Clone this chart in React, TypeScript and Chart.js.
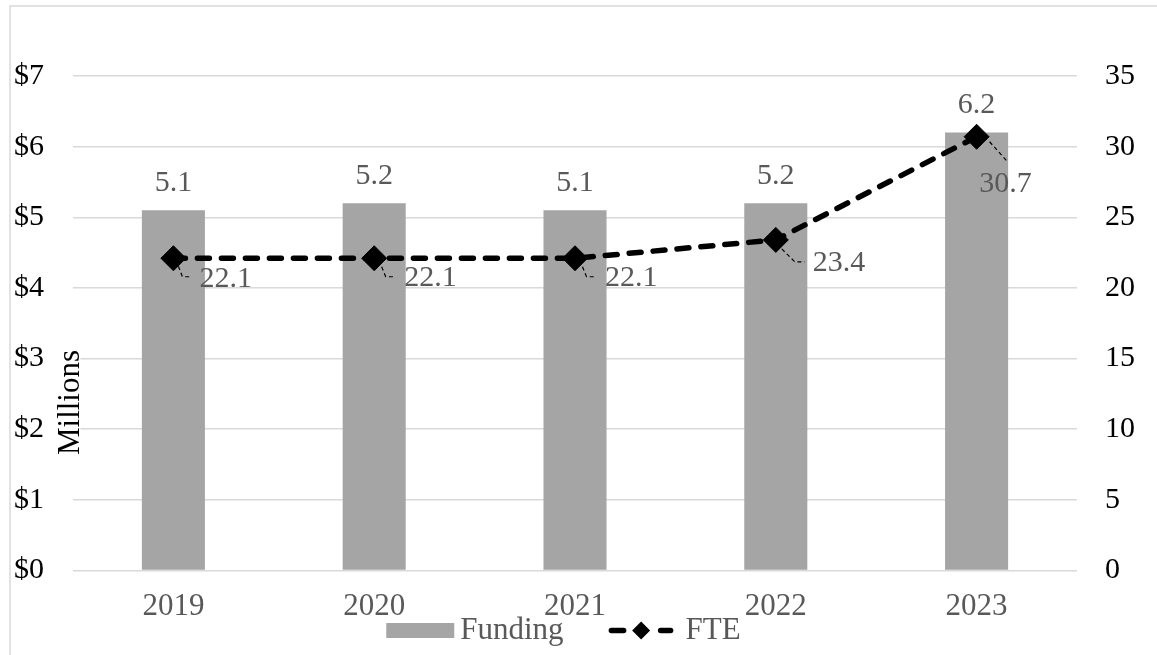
import { useEffect, useRef } from 'react';
import { Chart, registerables } from 'chart.js';

Chart.register(...registerables);

// ---- data ----
const categories = ['2019', '2020', '2021', '2022', '2023'];
const funding = [5.1, 5.2, 5.1, 5.2, 6.2]; // $ millions
const fte = [22.1, 22.1, 22.1, 23.4, 30.7];
const fundingTicks = { min: 0, max: 7, step: 1 };
const fteTicks = { min: 0, max: 35, step: 5 };
const seriesNames = ['Funding', 'FTE'];
const axisTitle = 'Millions';

// ---- styling ----
const SERIF = '"Liberation Serif", "Times New Roman", serif';
const BAR_GREY = '#a5a5a5';
const TEXT_GREY = '#595959';
const GRID_GREY = '#d9d9d9';
const LINE_WIDTH = 5.5;
const LINE_DASH = [12, 12];

// Hand-placed FTE labels: leader path and text anchor, relative to each marker
type Placement = { leader: number[][]; tx: number; ty: number; align: CanvasTextAlign };
const fteLabelPlacement: Placement[] = [
  { leader: [[5, 8], [9, 18.5], [17, 18.5]], tx: 26, ty: 20.5, align: 'left' },
  { leader: [[7.5, 8.5], [11.5, 18.5], [21.5, 18.5]], tx: 30, ty: 20, align: 'left' },
  { leader: [[7.5, 8.5], [11.5, 18.5], [21.5, 18.5]], tx: 30, ty: 20, align: 'left' },
  { leader: [[6, 9], [19, 22], [29, 22]], tx: 37, ty: 23, align: 'left' },
  { leader: [[13, 5], [30, 24]], tx: 29, ty: 47.5, align: 'center' },
];

// Outer frame of the chart (left and top edges are visible)
const framePlugin = {
  id: 'frame',
  beforeDraw(chart: any) {
    const { ctx, width, height } = chart;
    ctx.save();
    ctx.strokeStyle = GRID_GREY;
    ctx.lineWidth = 1.5;
    ctx.beginPath();
    ctx.moveTo(10, height);
    ctx.lineTo(10, 6);
    ctx.lineTo(width, 6);
    ctx.stroke();
    ctx.restore();
  },
};

// Value labels for bars (above) and FTE markers (with leader lines)
const valueLabelPlugin = {
  id: 'valueLabels',
  afterDatasetsDraw(chart: any) {
    const { ctx } = chart;
    ctx.save();
    ctx.font = `30px ${SERIF}`;
    ctx.fillStyle = TEXT_GREY;
    ctx.textBaseline = 'middle';

    const barMeta = chart.getDatasetMeta(0);
    barMeta.data.forEach((bar: any, i: number) => {
      ctx.textAlign = 'center';
      ctx.fillText(funding[i].toFixed(1), bar.x, bar.y - 27);
    });

    const lineMeta = chart.getDatasetMeta(1);
    lineMeta.data.forEach((pt: any, i: number) => {
      const p = fteLabelPlacement[i];
      ctx.save();
      ctx.strokeStyle = '#000';
      ctx.lineWidth = 1.2;
      ctx.setLineDash([4, 3]);
      ctx.beginPath();
      p.leader.forEach(([dx, dy], k) => {
        if (k === 0) ctx.moveTo(pt.x + dx, pt.y + dy);
        else ctx.lineTo(pt.x + dx, pt.y + dy);
      });
      ctx.stroke();
      ctx.restore();
      ctx.textAlign = p.align;
      ctx.fillText(fte[i].toFixed(1), pt.x + p.tx, pt.y + p.ty);
    });
    ctx.restore();
  },
};

// Rotated left-axis title on a white backing
const axisTitlePlugin = {
  id: 'axisTitle',
  afterDraw(chart: any) {
    const { ctx, chartArea } = chart;
    ctx.save();
    ctx.font = `31px ${SERIF}`;
    const w = ctx.measureText(axisTitle).width;
    const bx = chartArea.left + 5.5;
    const cy = chartArea.bottom - 168;
    ctx.fillStyle = '#ffffff';
    ctx.fillRect(bx - 23, cy - w / 2 - 2, 25, w + 4);
    ctx.translate(bx, cy);
    ctx.rotate(-Math.PI / 2);
    ctx.textAlign = 'center';
    ctx.textBaseline = 'alphabetic';
    ctx.fillStyle = '#000000';
    ctx.fillText(axisTitle, 0, 0);
    ctx.restore();
  },
};

// Legend below the category labels
const legendPlugin = {
  id: 'customLegend',
  afterDraw(chart: any) {
    const { ctx, chartArea } = chart;
    ctx.save();
    ctx.font = `31px ${SERIF}`;
    const fw = ctx.measureText(seriesNames[0]).width;
    const tw = ctx.measureText(seriesNames[1]).width;
    const boxW = 68, boxH = 15, gap1 = 6, gap2 = 45, sampleW = 65, gap3 = 12;
    const total = boxW + gap1 + fw + gap2 + sampleW + gap3 + tw;
    const cy = chartArea.bottom + 60;
    let x = (chartArea.left + chartArea.right) / 2 - 11.5 - total / 2;

    ctx.fillStyle = BAR_GREY;
    ctx.fillRect(x, cy - boxH / 2, boxW, boxH);
    x += boxW + gap1;
    ctx.fillStyle = TEXT_GREY;
    ctx.textAlign = 'left';
    ctx.textBaseline = 'middle';
    ctx.fillText(seriesNames[0], x, cy);
    x += fw + gap2;

    // line sample: dash, diamond, dash
    ctx.strokeStyle = '#000';
    ctx.lineWidth = LINE_WIDTH;
    ctx.lineCap = 'round';
    ctx.beginPath();
    ctx.moveTo(x + 2.75, cy);
    ctx.lineTo(x + 15, cy);
    ctx.moveTo(x + 52, cy);
    ctx.lineTo(x + 62, cy);
    ctx.stroke();
    const dxc = x + sampleW / 2;
    const r = 9;
    ctx.fillStyle = '#000';
    ctx.beginPath();
    ctx.moveTo(dxc - r, cy);
    ctx.lineTo(dxc, cy - r);
    ctx.lineTo(dxc + r, cy);
    ctx.lineTo(dxc, cy + r);
    ctx.closePath();
    ctx.fill();
    x += sampleW + gap3;

    ctx.fillStyle = TEXT_GREY;
    ctx.fillText(seriesNames[1], x, cy);
    ctx.restore();
  },
};

export default function App() {
  const canvasRef = useRef<HTMLCanvasElement | null>(null);

  useEffect(() => {
    if (!canvasRef.current) return;
    const chart = new Chart(canvasRef.current, {
      type: 'bar',
      data: {
        labels: categories,
        datasets: [
          {
            type: 'bar',
            label: seriesNames[0],
            data: funding,
            backgroundColor: BAR_GREY,
            borderWidth: 0,
            yAxisID: 'y',
            order: 1,
            categoryPercentage: 1,
            barPercentage: 0.314,
          },
          {
            type: 'line',
            label: seriesNames[1],
            data: fte,
            yAxisID: 'y1',
            order: 0,
            borderColor: '#000',
            borderWidth: LINE_WIDTH,
            borderDash: LINE_DASH,
            borderCapStyle: 'round',
            tension: 0,
            fill: false,
            pointStyle: 'rectRot',
            pointRadius: 12.5,
            pointBackgroundColor: '#000',
            pointBorderColor: '#000',
            pointBorderWidth: 1,
          },
        ],
      } as any,
      options: {
        responsive: false,
        animation: false,
        events: [],
        layout: { padding: { top: 76, left: 0, right: 0, bottom: 0 } },
        plugins: {
          legend: { display: false },
          tooltip: { enabled: false },
          title: { display: false },
        },
        scales: {
          x: {
            offset: true,
            grid: { display: false, drawTicks: false },
            border: { display: false },
            ticks: {
              font: { family: SERIF, size: 31 },
              color: TEXT_GREY,
              padding: 18,
              maxRotation: 0,
            },
            afterFit: (scale: any) => {
              scale.height = 84.5;
            },
          },
          y: {
            position: 'left',
            min: fundingTicks.min,
            max: fundingTicks.max,
            ticks: {
              stepSize: fundingTicks.step,
              font: { family: SERIF, size: 30 },
              color: '#000',
              padding: 29,
              callback: (v: any) => '$' + v,
            },
            grid: { color: GRID_GREY, lineWidth: 1.5, drawTicks: false },
            border: { display: false },
            afterFit: (scale: any) => {
              scale.width = 73;
            },
          },
          y1: {
            position: 'right',
            min: fteTicks.min,
            max: fteTicks.max,
            ticks: {
              stepSize: fteTicks.step,
              font: { family: SERIF, size: 30 },
              color: '#000',
              padding: 28,
            },
            grid: { display: false, drawTicks: false },
            border: { display: false },
            afterFit: (scale: any) => {
              scale.width = 80;
            },
          },
        },
      } as any,
      plugins: [framePlugin, valueLabelPlugin, axisTitlePlugin, legendPlugin],
    });
    return () => chart.destroy();
  }, []);

  return (
    <div style={{ position: 'fixed', left: 0, top: 0, width: 1157, height: 655, background: '#fff' }}>
      <canvas ref={canvasRef} width={1157} height={655} style={{ display: 'block' }} />
    </div>
  );
}
